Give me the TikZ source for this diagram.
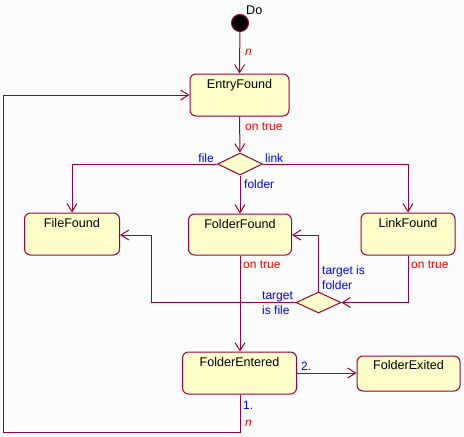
\documentclass[tikz,border=0pt]{standalone}
\usepackage{fontspec}
\setmainfont{Liberation Sans}
\usetikzlibrary{arrows.meta,shapes.geometric}
\definecolor{lin}{HTML}{99003C}
\definecolor{fil}{HTML}{FFFFCC}
\definecolor{bg}{HTML}{FCFCFC}
\definecolor{lblue}{HTML}{0000FF}
\definecolor{lred}{HTML}{FF0000}
\tikzset{
  state/.style={draw=lin, fill=fil, line width=1pt, rounded corners=6pt, inner sep=0pt},
  lbl/.style={anchor=base, yshift=-15pt, font=\fontsize{12.6}{14}\selectfont},
  choice/.style={draw=lin, fill=fil, line width=1pt, diamond, inner sep=0pt},
  conn/.style={draw=lin, line width=1pt, -{Straight Barb[length=8pt,width=10pt]}},
  bl/.style={text=lblue, font=\fontsize{12}{14}\selectfont, inner sep=0pt},
  rd/.style={text=lred, font=\fontsize{12}{14}\selectfont, inner sep=0pt},
}
\begin{document}
\begin{tikzpicture}[x=1pt,y=-1pt]
\fill[bg] (0,0) rectangle (464,437);
\useasboundingbox (0,0) rectangle (464,437);
% start
\node[circle, fill=black, draw=lin, line width=1pt, minimum size=17pt, inner sep=0pt] (st) at (240,23) {};
\node[anchor=base west, inner sep=0pt, font=\fontsize{12.6}{14}\selectfont] (do) at (246,14) {Do};
% states
\node[state, minimum width=99pt, minimum height=42pt, label={[lbl]north:EntryFound}] (ef) at (239.5,95) {};
\node[state, minimum width=95pt, minimum height=42pt, label={[lbl]north:FileFound}] (ff) at (72,234) {};
\node[state, minimum width=103pt, minimum height=41pt, label={[lbl]north:FolderFound}] (fo) at (240,234.5) {};
\node[state, minimum width=94pt, minimum height=42pt, label={[lbl]north:LinkFound}] (lf) at (408,234) {};
\node[state, minimum width=114pt, minimum height=42pt, label={[lbl]north:FolderEntered}] (fe) at (239.5,373) {};
\node[state, minimum width=103pt, minimum height=35pt, label={[lbl,yshift=1pt]north:FolderExited}] (fx) at (408.5,373.5) {};
% decisions
\node[choice, minimum width=45pt, minimum height=22pt] (d1) at (240,164) {};
\node[choice, minimum width=45pt, minimum height=21pt] (d2) at (318.5,302.5) {};
% helper coordinates
\coordinate (c1) at (72,164);
\coordinate (c2) at (408,164);
\coordinate (c3) at (408,302.5);
\coordinate (c4) at (318.5,235);
\coordinate (c5) at (151,302.5);
\coordinate (c6) at (151,235);
\coordinate (c7) at (240,432);
\coordinate (c8) at (3,432);
\coordinate (c9) at (3,95);
% connectors
\draw[conn] (st) -- (ef.north);
\draw[conn] (ef.south) -- (d1.north);
\draw[conn] (d1.west) -- (c1) -- (ff.north);
\draw[conn] (d1.east) -- (c2) -- (lf.north);
\draw[conn] (d1.south) -- (fo.north);
\draw[conn] (lf.south) -- (c3) -- (d2.east);
\draw[conn] (d2.north) -- (c4) -- (fo.east |- c4);
\draw[conn] (d2.west) -- (c5) -- (c6) -- (ff.east |- c6);
\draw[conn] (fo.south) -- (fe.north -| fo.south);
\draw[conn] (fe.east) -- (fx.west |- fe.east);
\draw[conn] (fe.south -| fo.south) -- (c7) -- (c8) -- (c9) -- (ef.west);
% labels
\node[rd, anchor=base west, font=\fontsize{12}{14}\selectfont\itshape] (n1) at (245,55) {n};
\node[rd, anchor=base west] (t1) at (245,130) {on true};
\node[bl, anchor=base east] (lfile) at (214,162) {file};
\node[bl, anchor=base west] (llink) at (265,162) {link};
\node[bl, anchor=base west] (lfolder) at (244,188) {folder};
\node[rd, anchor=base west] (t2) at (243,268) {on true};
\node[rd, anchor=base west] (t3) at (411,268) {on true};
\node[bl, anchor=base west] (tf1) at (322,274) {target is};
\node[bl, anchor=base west] (tf2) at (322,289) {folder};
\node[bl, anchor=base west] (tg1) at (262,299) {target};
\node[bl, anchor=base west] (tg2) at (262,314) {is file};
\node[bl, anchor=base west] (two) at (301,370) {2.};
\node[bl, anchor=base west] (one) at (243,409) {1.};
\node[rd, anchor=base west, font=\fontsize{12}{14}\selectfont\itshape] (n2) at (245,426) {n};
\end{tikzpicture}
\end{document}
